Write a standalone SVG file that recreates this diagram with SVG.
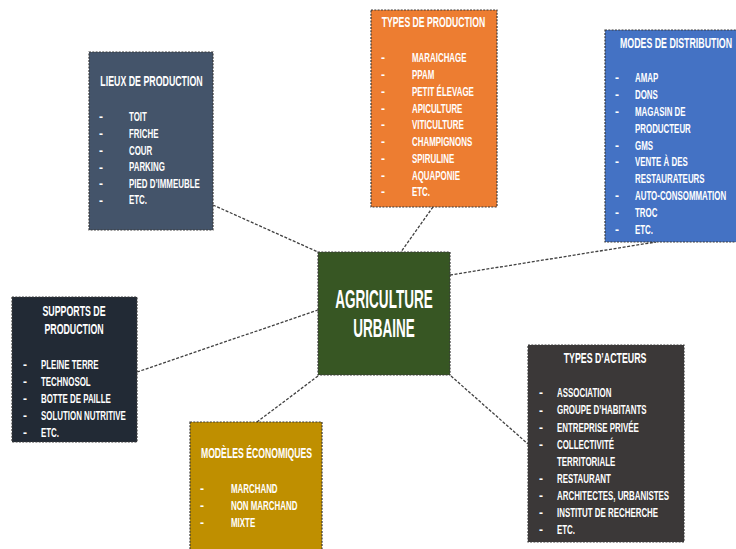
<svg xmlns="http://www.w3.org/2000/svg" width="736" height="549" viewBox="0 0 736 549">
<style>
.box{stroke:#3a3a3a;stroke-width:1.2;stroke-dasharray:2 1.3}
.con{fill:none;stroke:#404040;stroke-width:1.3;stroke-dasharray:3 1.6}
text{font-family:"Liberation Sans",Arial,sans-serif;font-weight:bold;fill:#ffffff}
.it{font-size:12px}
.ti{font-size:14px;text-anchor:middle}
.ce{font-size:26px;text-anchor:middle}
</style>
<rect width="736" height="549" fill="#ffffff"/>
<g id="connectors">
<line class="con" x1="213" y1="205" x2="318" y2="252"/>
<line class="con" x1="433" y1="207" x2="401" y2="252"/>
<line class="con" x1="450" y1="275" x2="656" y2="242"/>
<line class="con" x1="137" y1="372" x2="318" y2="310"/>
<line class="con" x1="318" y1="376" x2="257" y2="422"/>
<line class="con" x1="451" y1="376" x2="528" y2="444"/>
</g>
<g id="lieux">
<rect class="box" x="89" y="52" width="124" height="178" fill="#44546a"/>
<g transform="translate(151.5 0) scale(0.63 1)"><text class="ti" x="0" y="86.5">LIEUX DE PRODUCTION</text></g>
<g transform="translate(99 0)">
<text class="it" x="0" y="121">-</text><text class="it" x="0" y="138">-</text><text class="it" x="0" y="155">-</text><text class="it" x="0" y="171.5">-</text><text class="it" x="0" y="188">-</text><text class="it" x="0" y="204.5">-</text>
</g>
<g transform="translate(129 0) scale(0.66 1)">
<text class="it" x="0" y="121">TOIT</text>
<text class="it" x="0" y="138">FRICHE</text>
<text class="it" x="0" y="155">COUR</text>
<text class="it" x="0" y="171.5">PARKING</text>
<text class="it" x="0" y="188">PIED D’IMMEUBLE</text>
<text class="it" x="0" y="204.5">ETC.</text>
</g>
</g>
<g id="types-production">
<rect class="box" x="371" y="10" width="126" height="197" fill="#ed7d31"/>
<g transform="translate(433.5 0) scale(0.62 1)"><text class="ti" x="0" y="27.5">TYPES DE PRODUCTION</text></g>
<g transform="translate(381 0)">
<text class="it" x="0" y="62.4">-</text><text class="it" x="0" y="79.2">-</text><text class="it" x="0" y="95.9">-</text><text class="it" x="0" y="112.7">-</text><text class="it" x="0" y="129.4">-</text><text class="it" x="0" y="146.2">-</text><text class="it" x="0" y="162.9">-</text><text class="it" x="0" y="179.7">-</text><text class="it" x="0" y="196.4">-</text>
</g>
<g transform="translate(412 0) scale(0.66 1)">
<text class="it" x="0" y="62.4">MARAICHAGE</text>
<text class="it" x="0" y="79.2">PPAM</text>
<text class="it" x="0" y="95.9">PETIT ÉLEVAGE</text>
<text class="it" x="0" y="112.7">APICULTURE</text>
<text class="it" x="0" y="129.4">VITICULTURE</text>
<text class="it" x="0" y="146.2">CHAMPIGNONS</text>
<text class="it" x="0" y="162.9">SPIRULINE</text>
<text class="it" x="0" y="179.7">AQUAPONIE</text>
<text class="it" x="0" y="196.4">ETC.</text>
</g>
</g>
<g id="modes-distribution">
<rect class="box" x="605" y="30" width="132" height="212" fill="#4472c4"/>
<g transform="translate(676 0) scale(0.63 1)"><text class="ti" x="0" y="48.5">MODES DE DISTRIBUTION</text></g>
<g transform="translate(615 0)">
<text class="it" x="0" y="82.4">-</text><text class="it" x="0" y="99.2">-</text><text class="it" x="0" y="116">-</text><text class="it" x="0" y="149.6">-</text><text class="it" x="0" y="166.4">-</text><text class="it" x="0" y="200">-</text><text class="it" x="0" y="216.8">-</text><text class="it" x="0" y="233.6">-</text>
</g>
<g transform="translate(635 0) scale(0.66 1)">
<text class="it" x="0" y="82.4">AMAP</text>
<text class="it" x="0" y="99.2">DONS</text>
<text class="it" x="0" y="116">MAGASIN DE</text>
<text class="it" x="0" y="132.8">PRODUCTEUR</text>
<text class="it" x="0" y="149.6">GMS</text>
<text class="it" x="0" y="166.4">VENTE À DES</text>
<text class="it" x="0" y="183.2">RESTAURATEURS</text>
<text class="it" x="0" y="200">AUTO-CONSOMMATION</text>
<text class="it" x="0" y="216.8">TROC</text>
<text class="it" x="0" y="233.6">ETC.</text>
</g>
</g>
<g id="supports">
<rect class="box" x="12" y="297" width="125" height="145" fill="#222a35"/>
<g transform="translate(74 0) scale(0.63 1)">
<text class="ti" x="0" y="316.5">SUPPORTS DE</text>
<text class="ti" x="0" y="334.5">PRODUCTION</text>
</g>
<g transform="translate(23 0)">
<text class="it" x="0" y="369.4">-</text><text class="it" x="0" y="386.2">-</text><text class="it" x="0" y="403">-</text><text class="it" x="0" y="419.8">-</text><text class="it" x="0" y="436.6">-</text>
</g>
<g transform="translate(41 0) scale(0.66 1)">
<text class="it" x="0" y="369.4">PLEINE TERRE</text>
<text class="it" x="0" y="386.2">TECHNOSOL</text>
<text class="it" x="0" y="403">BOTTE DE PAILLE</text>
<text class="it" x="0" y="419.8">SOLUTION NUTRITIVE</text>
<text class="it" x="0" y="436.6">ETC.</text>
</g>
</g>
<g id="agriculture-urbaine">
<rect class="box" x="318" y="252" width="132" height="123" fill="#375623"/>
<g transform="translate(384 0) scale(0.52 1)">
<text class="ce" x="0" y="308.5">AGRICULTURE</text>
<text class="ce" x="0" y="337.5">URBAINE</text>
</g>
</g>
<g id="modeles-economiques">
<rect class="box" x="190" y="422" width="132" height="128" fill="#bf8f00"/>
<g transform="translate(256.5 0) scale(0.62 1)"><text class="ti" x="0" y="458.5">MODÈLES ÉCONOMIQUES</text></g>
<g transform="translate(200 0)">
<text class="it" x="0" y="492.9">-</text><text class="it" x="0" y="509.9">-</text><text class="it" x="0" y="526.9">-</text>
</g>
<g transform="translate(231 0) scale(0.66 1)">
<text class="it" x="0" y="492.9">MARCHAND</text>
<text class="it" x="0" y="509.9">NON MARCHAND</text>
<text class="it" x="0" y="526.9">MIXTE</text>
</g>
</g>
<g id="types-acteurs">
<rect class="box" x="528" y="345" width="156" height="197" fill="#3b3838"/>
<g transform="translate(605 0) scale(0.63 1)"><text class="ti" x="0" y="363.5">TYPES D’ACTEURS</text></g>
<g transform="translate(539 0)">
<text class="it" x="0" y="397.4">-</text><text class="it" x="0" y="414.5">-</text><text class="it" x="0" y="431.6">-</text><text class="it" x="0" y="448.7">-</text><text class="it" x="0" y="482.9">-</text><text class="it" x="0" y="500">-</text><text class="it" x="0" y="517.1">-</text><text class="it" x="0" y="534.2">-</text>
</g>
<g transform="translate(557 0) scale(0.66 1)">
<text class="it" x="0" y="397.4">ASSOCIATION</text>
<text class="it" x="0" y="414.5">GROUPE D’HABITANTS</text>
<text class="it" x="0" y="431.6">ENTREPRISE PRIVÉE</text>
<text class="it" x="0" y="448.7">COLLECTIVITÉ</text>
<text class="it" x="0" y="465.8">TERRITORIALE</text>
<text class="it" x="0" y="482.9">RESTAURANT</text>
<text class="it" x="0" y="500">ARCHITECTES, URBANISTES</text>
<text class="it" x="0" y="517.1">INSTITUT DE RECHERCHE</text>
<text class="it" x="0" y="534.2">ETC.</text>
</g>
</g>
</svg>
